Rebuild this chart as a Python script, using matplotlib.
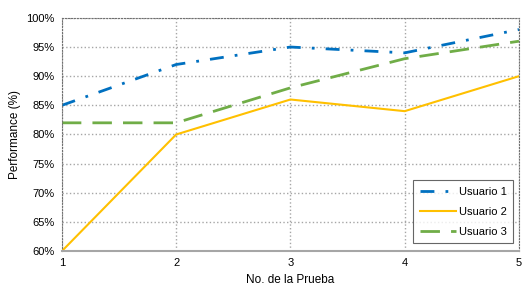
import matplotlib
matplotlib.use("Agg")
import matplotlib.pyplot as plt
from matplotlib.ticker import FuncFormatter

prueba = [1, 2, 3, 4, 5]
usuario1 = [85, 92, 95, 94, 98]
usuario2 = [60, 80, 86, 84, 90]
usuario3 = [82, 82, 88, 93, 96]

plt.rcParams['font.family'] = ['Liberation Sans', 'DejaVu Sans']

fig = plt.figure(figsize=(5.29, 2.93), dpi=100)
ax = fig.add_axes([0.117, 0.143, 0.864, 0.796])

ax.plot(prueba, usuario1, color='#0070C0', linewidth=2, dashes=(5, 4, 1, 4), label='Usuario 1')
ax.plot(prueba, usuario2, color='#FFC000', linewidth=1.5, label='Usuario 2')
ax.plot(prueba, usuario3, color='#70AD47', linewidth=2, dashes=(7, 4), label='Usuario 3')

ax.set_xlim(1, 5)
ax.set_ylim(60, 100)
ax.set_xticks(prueba)
ax.set_yticks(range(60, 101, 5))
ax.yaxis.set_major_formatter(FuncFormatter(lambda v, p: '%d%%' % v))
ax.grid(True, color='#A6A6A6', linestyle=':', linewidth=1)
ax.tick_params(length=0, labelsize=8, pad=5)

for s in ['left', 'top', 'right']:
    ax.spines[s].set_color('#707070')
    ax.spines[s].set_linestyle(':')
ax.spines['bottom'].set_color('#A6A6A6')
ax.spines['bottom'].set_linewidth(1.5)

ax.set_xlabel('No. de la Prueba', fontsize=8.5)
ax.set_ylabel('Performance (%)', fontsize=8.5)

leg = ax.legend(loc='lower right', fontsize=8, fancybox=False, edgecolor='#404040',
                handlelength=3.2, handletextpad=0.3, borderpad=0.6, labelspacing=0.9,
                bbox_to_anchor=(1.0, 0.01))
leg.get_frame().set_linewidth(0.8)

fig.savefig('out.png', dpi=100)
